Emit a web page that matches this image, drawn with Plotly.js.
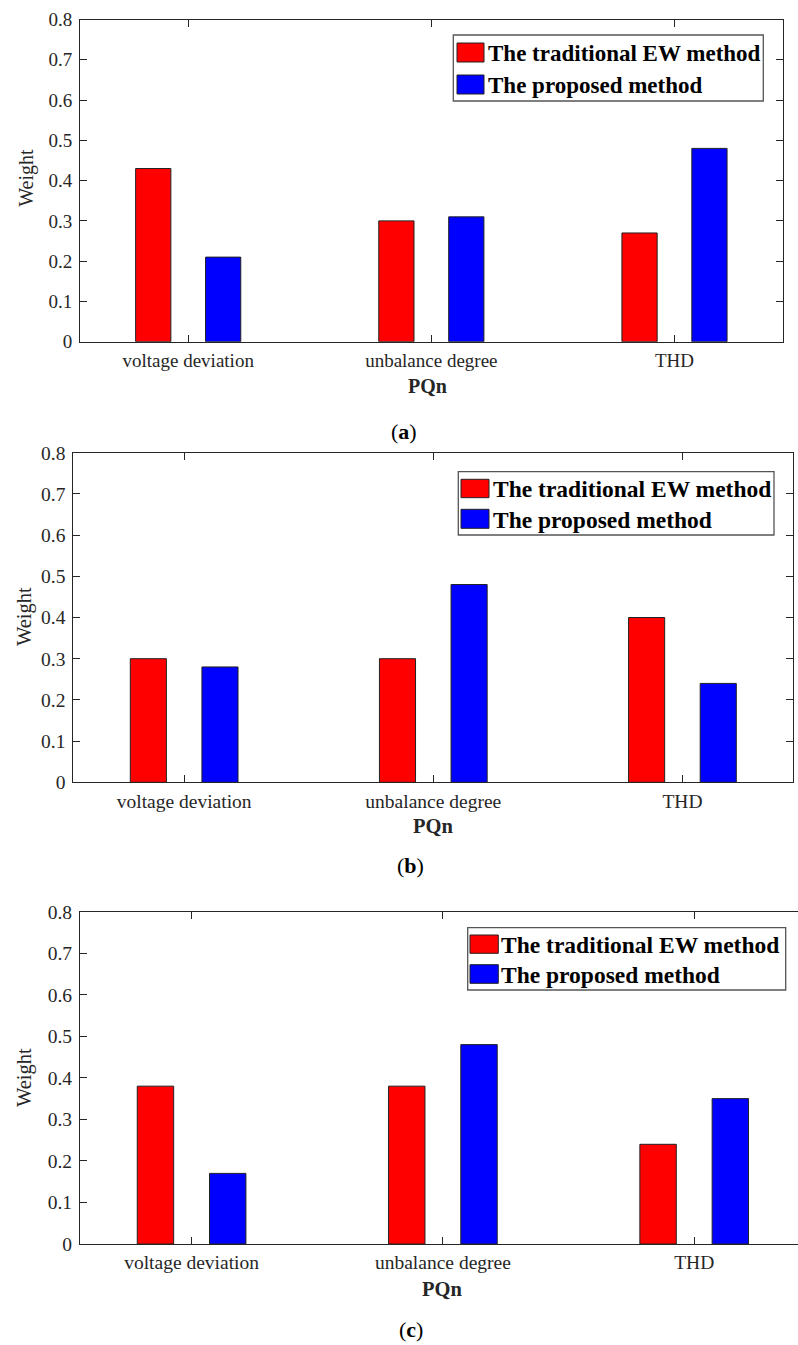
<!DOCTYPE html>
<html>
<head>
<meta charset="utf-8">
<script src="https://cdn.plot.ly/plotly-3.0.1.min.js"></script>
<style>html,body{margin:0;padding:0;background:#fff;}#chart{width:798px;height:1345px;}</style>
</head>
<body>
<div id="chart"></div>
<script>
// ---- data ----
const categories = ['voltage deviation', 'unbalance degree', 'THD'];
const seriesNames = ['The traditional EW method', 'The proposed method'];
const traditionalA = [0.43, 0.30, 0.27];
const proposedA    = [0.21, 0.31, 0.48];
const traditionalB = [0.30, 0.30, 0.40];
const proposedB    = [0.28, 0.48, 0.24];
const traditionalC = [0.38, 0.38, 0.24];
const proposedC    = [0.17, 0.48, 0.35];
const yTickVals = [0, 0.1, 0.2, 0.3, 0.4, 0.5, 0.6, 0.7, 0.8];
const yTickText = ['0', '0.1', '0.2', '0.3', '0.4', '0.5', '0.6', '0.7', '0.8'];
const panelLabels = ['a', 'b', 'c'];
const xTitle = 'PQn';
const yTitle = 'Weight';

// ---- layout helpers ----
const W = 798, H = 1345;
const fx = p => p / W;
const fy = p => 1 - p / H;
const SERIF = 'Liberation Serif, Times New Roman, serif';
const AXC = '#262626';
const colors = ['#ff0000', '#0000ff'];

// pixel geometry for each panel
const panels = [
  {l: 80,   r: 782.7, t: 19.5,  b: 341.7, xr: [-0.445, 2.445], mirrorY: 'ticks', fs: 19,
   leg: {l: 453.3, r: 763.3, t: 35, b: 101, sl: 457, sr: 484, r1: [43, 62], r2: [75, 94], tx: 486, fs: 23},
   ytitle: [26.7, 178], xtitle: [427, 386], cap: [404, 432]},
  {l: 73.3, r: 793.3, t: 452.7, b: 782.3, xr: [-0.445, 2.445], mirrorY: 'ticks', fs: 19.5,
   leg: {l: 458.3, r: 774, t: 471.7, b: 535, sl: 461, sr: 489, r1: [479.3, 497.7], r2: [509.3, 528.3], tx: 490.7, fs: 23.5},
   ytitle: [24, 617], xtitle: [433, 826], cap: [410, 865]},
  {l: 80,   r: 798,   t: 911.7, b: 1244,  xr: [-0.444, 2.413], mirrorY: false, fs: 19.5,
   leg: {l: 467.7, r: 785.7, t: 927.7, b: 990, sl: 470, sr: 498.3, r1: [935, 953.3], r2: [964.7, 983.3], tx: 499.3, fs: 23.5},
   ytitle: [24, 1078], xtitle: [442, 1289], cap: [411, 1329]}
];
const seriesData = [[traditionalA, proposedA], [traditionalB, proposedB], [traditionalC, proposedC]];

const data = [];
const layout = {
  width: W, height: H,
  margin: {l: 0, r: 0, t: 0, b: 0},
  paper_bgcolor: '#fff', plot_bgcolor: '#fff',
  barmode: 'group', bargap: 0.425, bargroupgap: 0.496,
  showlegend: false,
  font: {family: SERIF, color: AXC},
  shapes: [], annotations: []
};

panels.forEach((p, i) => {
  const sfx = i === 0 ? '' : String(i + 1);
  const xa = 'x' + sfx, ya = 'y' + sfx;
  seriesData[i].forEach((vals, s) => {
    data.push({
      type: 'bar', x: categories, y: vals, name: seriesNames[s],
      xaxis: xa, yaxis: ya,
      marker: {color: colors[s], line: {color: '#222', width: 1}},
      hoverinfo: 'x+y+name'
    });
  });
  layout['xaxis' + sfx] = {
    domain: [fx(p.l), fx(p.r)], anchor: ya,
    type: 'category', range: p.xr,
    showline: true, linecolor: AXC, linewidth: 1, mirror: 'ticks',
    ticks: 'inside', ticklen: 7, tickcolor: AXC, tickwidth: 1,
    showgrid: false, zeroline: false,
    tickfont: {family: SERIF, size: p.fs, color: AXC},
    ticklabelstandoff: 1, fixedrange: true
  };
  layout['yaxis' + sfx] = {
    domain: [fy(p.b), fy(p.t)], anchor: xa,
    range: [0, 0.8], tickmode: 'array', tickvals: yTickVals, ticktext: yTickText,
    showline: true, linecolor: AXC, linewidth: 1, mirror: p.mirrorY,
    ticks: 'inside', ticklen: 7, tickcolor: AXC, tickwidth: 1,
    showgrid: false, zeroline: false,
    tickfont: {family: SERIF, size: p.fs, color: AXC},
    ticklabelstandoff: 3, fixedrange: true
  };

  layout.annotations.push({
    xref: 'paper', yref: 'paper', x: fx(p.ytitle[0]), y: fy(p.ytitle[1]),
    text: yTitle, textangle: -90, showarrow: false, xanchor: 'center', yanchor: 'middle',
    font: {family: SERIF, size: p.fs + 1, color: AXC}
  });
  layout.annotations.push({
    xref: 'paper', yref: 'paper', x: fx(p.xtitle[0]), y: fy(p.xtitle[1]),
    text: '<b>' + xTitle + '</b>', showarrow: false, xanchor: 'center', yanchor: 'middle',
    font: {family: SERIF, size: p.fs + 1, color: AXC}
  });
  layout.annotations.push({
    xref: 'paper', yref: 'paper', x: fx(p.cap[0]), y: fy(p.cap[1]),
    text: '(<b>' + panelLabels[i] + '</b>)', showarrow: false, xanchor: 'center', yanchor: 'middle',
    font: {family: SERIF, size: 22, color: '#000'}
  });

  const L = p.leg;
  layout.shapes.push({
    type: 'rect', xref: 'paper', yref: 'paper',
    x0: fx(L.l), x1: fx(L.r), y0: fy(L.b), y1: fy(L.t),
    line: {color: '#555', width: 1.3}, fillcolor: '#fff', layer: 'above'
  });
  [L.r1, L.r2].forEach((rr, s) => {
    layout.shapes.push({
      type: 'rect', xref: 'paper', yref: 'paper',
      x0: fx(L.sl), x1: fx(L.sr), y0: fy(rr[1]), y1: fy(rr[0]),
      line: {color: '#222', width: 1}, fillcolor: colors[s], layer: 'above'
    });
    layout.annotations.push({
      xref: 'paper', yref: 'paper', x: fx(L.tx), y: fy((rr[0] + rr[1]) / 2 + 1),
      text: '<b>' + seriesNames[s] + '</b>', showarrow: false, xanchor: 'left', yanchor: 'middle',
      font: {family: SERIF, size: L.fs, color: '#000'}
    });
  });
});

Plotly.newPlot('chart', data, layout, {displayModeBar: false, staticPlot: true});
</script>
</body>
</html>
